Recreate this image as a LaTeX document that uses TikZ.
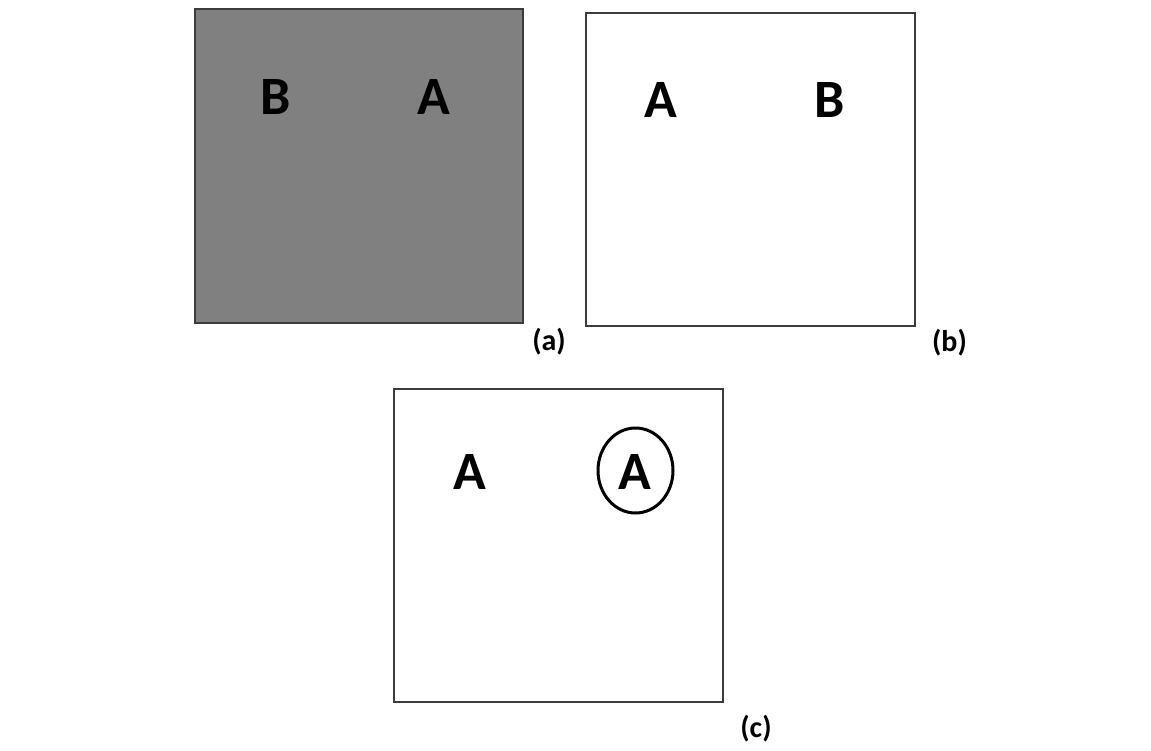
\documentclass[tikz,border=0pt]{standalone}
\usepackage{fontspec}
\setmainfont{Carlito}
\usetikzlibrary{shapes.geometric}
\definecolor{panelgray}{HTML}{808080}
\definecolor{framegray}{HTML}{3C3C3C}
\tikzset{
  panel/.style={draw=framegray, line width=1.8pt},
  letter/.style={inner sep=0pt, font=\fontsize{54}{54}\selectfont\bfseries},
  caption/.style={inner sep=0pt, font=\fontsize{30}{30}\selectfont\bfseries},
  ring/.style={draw=black, line width=3pt, ellipse, minimum width=75pt, minimum height=85pt, inner sep=0pt}
}
\begin{document}
\begin{tikzpicture}[x=1pt,y=-1pt]
\useasboundingbox (0,0) rectangle (1151,750);
% panel (a)
\path[panel, fill=panelgray] (195,9) rectangle (523,323);
\node[letter] (aB) at (276,96.5) {B};
\node[letter] (aA) at (434,96.5) {A};
\node[caption] (capa) at (549,342) {(a)};
% panel (b)
\path[panel, fill=white] (586,13) rectangle (915,326);
\node[letter] (bA) at (661,99.5) {A};
\node[letter] (bB) at (830,99.5) {B};
\node[caption] (capb) at (949.5,343) {(b)};
% panel (c)
\path[panel, fill=white] (394,389) rectangle (723,702);
\node[letter] (cA1) at (469.5,471.5) {A};
\node[letter] (cA2) at (634.5,471.5) {A};
\node[ring] (ring) at (635.5,470.5) {};
\node[caption] (capc) at (756,729) {(c)};
\end{tikzpicture}
\end{document}
